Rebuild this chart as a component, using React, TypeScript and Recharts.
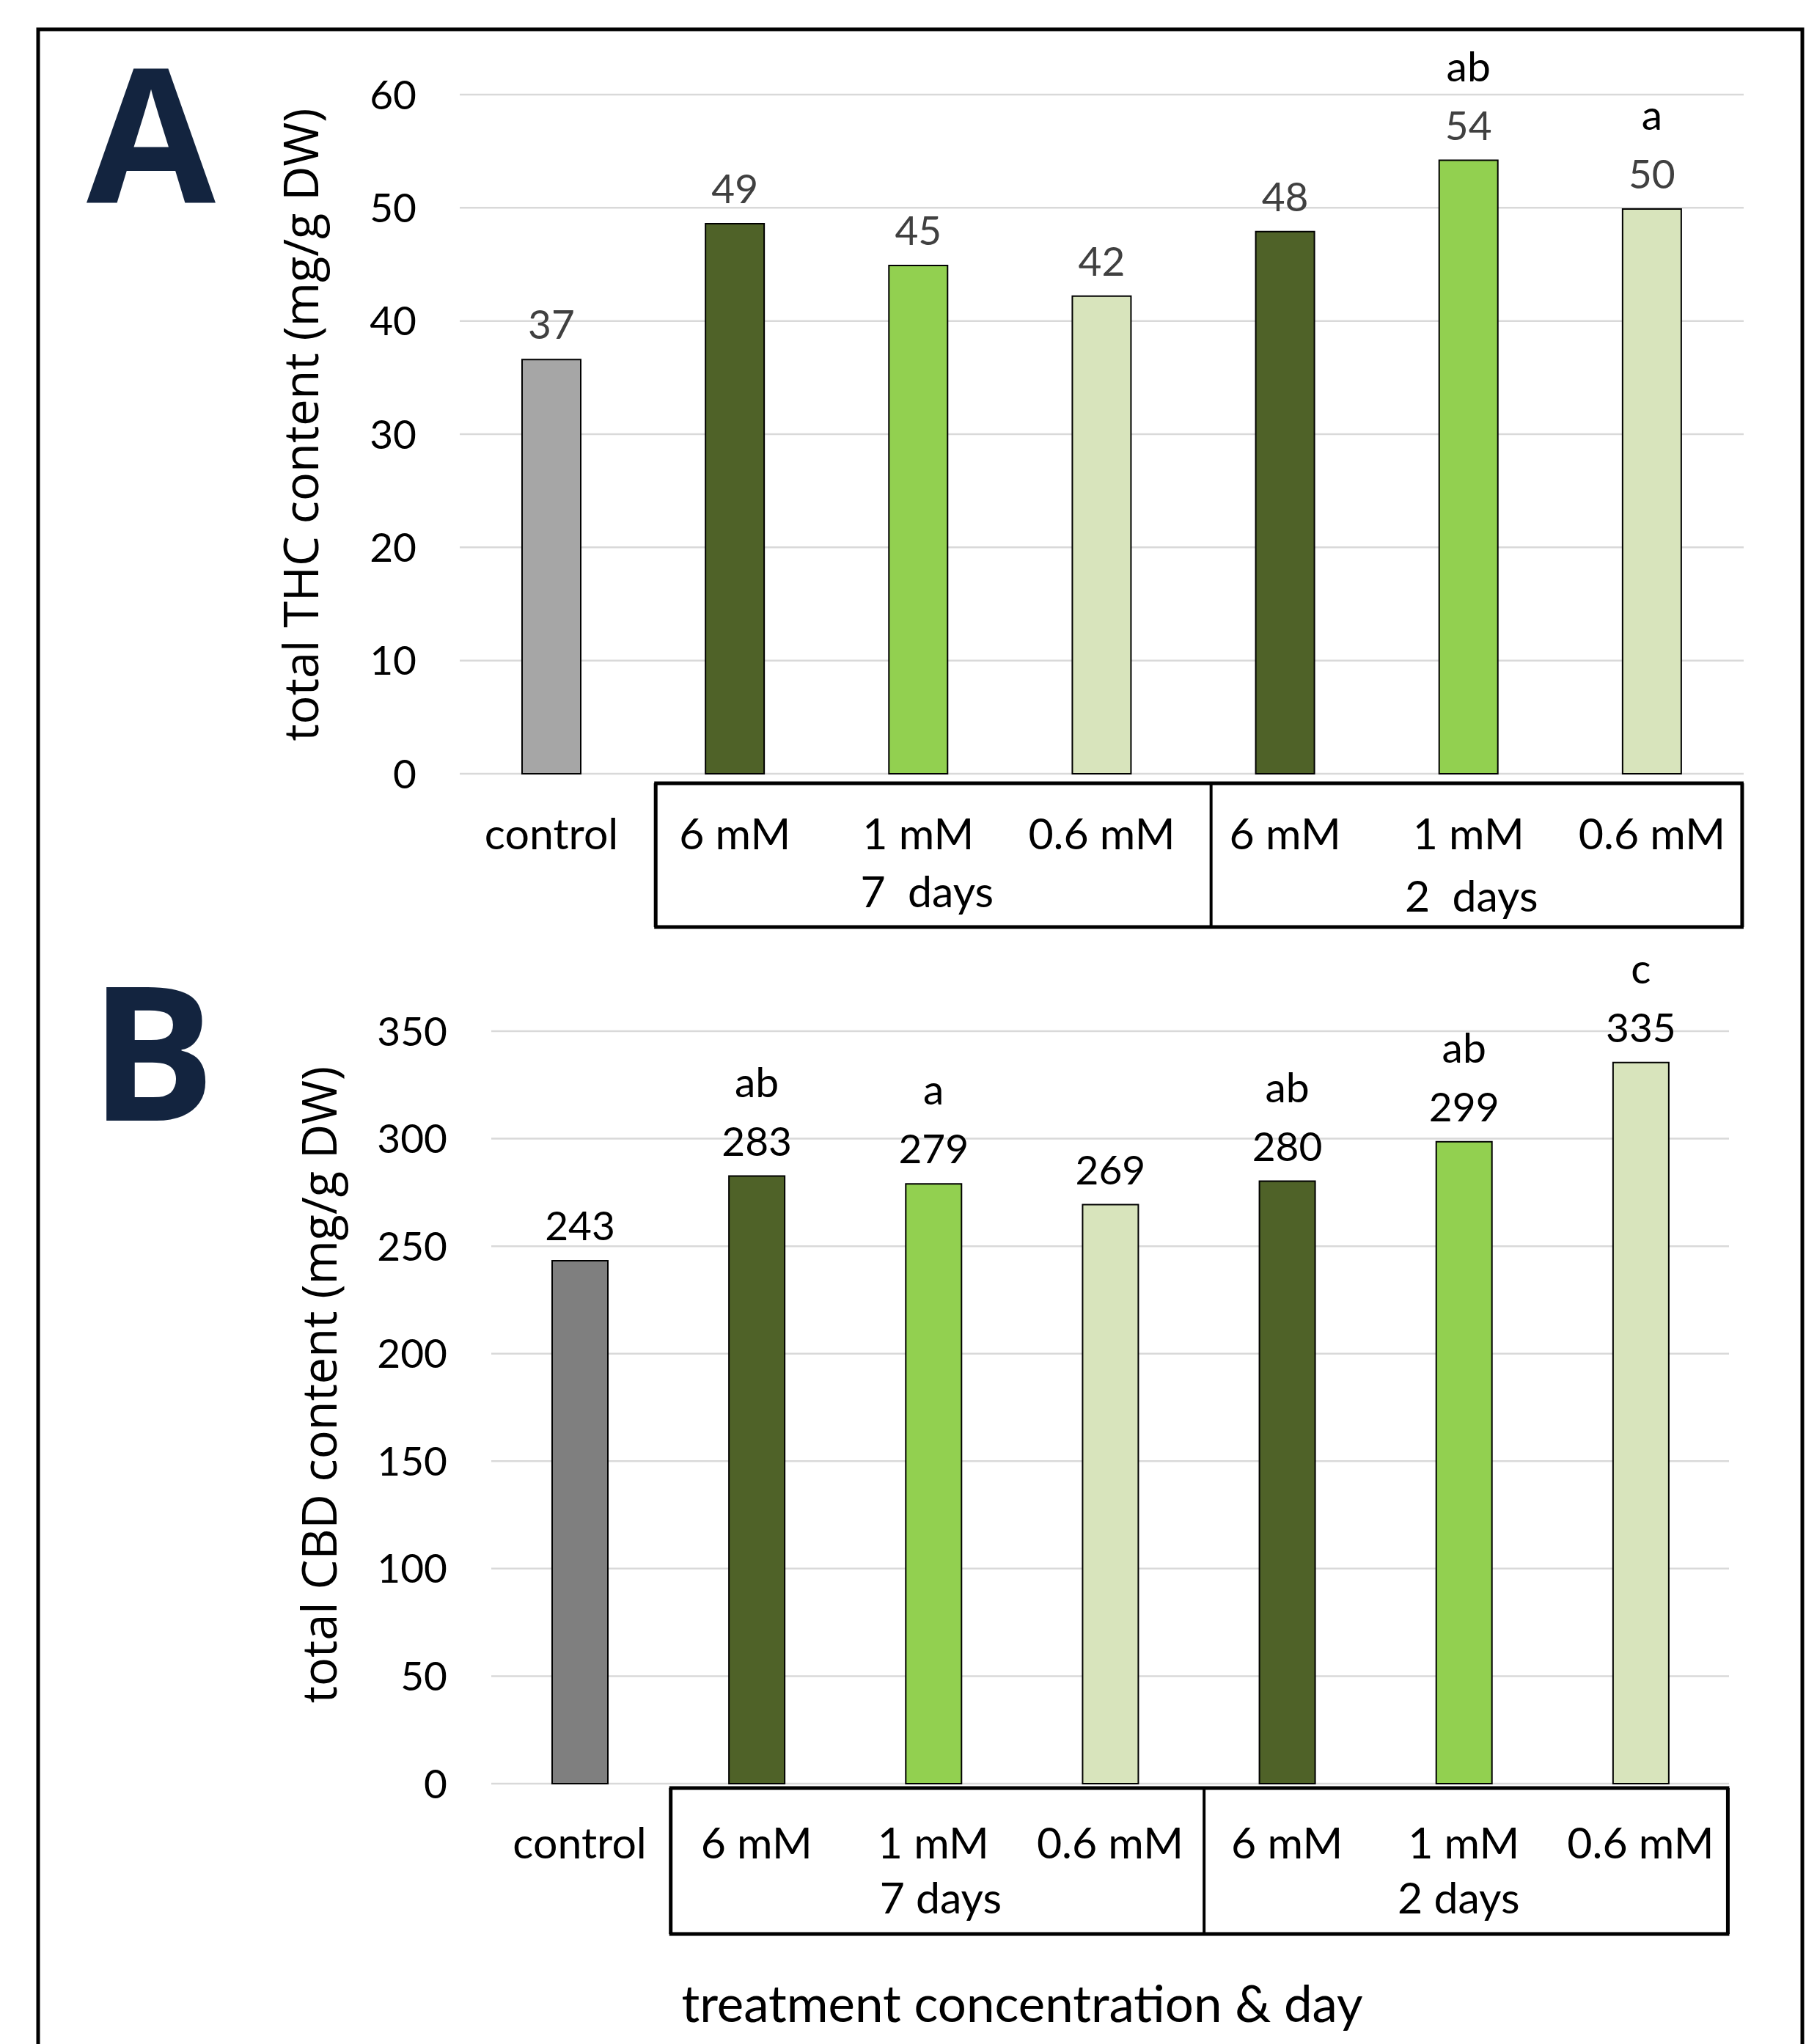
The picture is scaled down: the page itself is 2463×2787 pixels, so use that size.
import React from "react";
import { BarChart, Bar, XAxis, YAxis, CartesianGrid, Cell, LabelList } from "recharts";

const categories = ["control", "6 mM", "1 mM", "0.6 mM", "6 mM", "1 mM", "0.6 mM"];
const thcValues = [36.6, 48.6, 44.9, 42.2, 47.9, 54.2, 49.9];
const thcLetters = ["", "", "", "", "", "ab", "a"];
const cbdValues = [243.2, 282.6, 279.0, 269.3, 280.2, 298.6, 335.4];
const cbdLetters = ["", "ab", "a", "", "ab", "ab", "c"];
const thcTicks = [0, 10, 20, 30, 40, 50, 60];
const cbdTicks = [0, 50, 100, 150, 200, 250, 300, 350];
const colorsA = ["#a6a6a6", "#4f6228", "#92d050", "#d8e4bc", "#4f6228", "#92d050", "#d8e4bc"];
const colorsB = ["#7f7f7f", "#4f6228", "#92d050", "#d8e4bc", "#4f6228", "#92d050", "#d8e4bc"];

const FONT = "Lato, 'Open Sans', sans-serif";
const TITLE_FONT = "'Open Sans', 'Noto Sans', sans-serif";

const rowsA = categories.map((name, i) => ({ name, value: thcValues[i], letter: thcLetters[i] }));
const rowsB = categories.map((name, i) => ({ name, value: cbdValues[i], letter: cbdLetters[i] }));

const cfgA = {
  band: (2378 - 627) / 7,
  labelDy: 103,
  days: ["7  days", "2  days"],
  dayDx: [12, 4],
  dayDy: [182, 188],
  box: { left: -108, divider: -101, right: 123, top: 13, bottom: 209 },
};
const cfgB = {
  band: (2358 - 670) / 7,
  labelDy: 102,
  days: ["7 days", "2 days"],
  dayDx: [10, -7],
  dayDy: [177, 177],
  box: { left: -117, divider: -113, right: 119, top: 6, bottom: 205 },
};

function GroupTick(props: any) {
  const { x, y, index, cfg } = props;
  const txt = { fontFamily: FONT, fontSize: 59, fill: "#000", whiteSpace: "pre" as const };
  let box = null;
  if (index === 1) {
    const b = cfg.box;
    const l = x + b.left;
    const d = x + 3 * cfg.band + b.divider;
    const r = x + 5 * cfg.band + b.right;
    box = (
      <g stroke="#000" fill="none">
        <line x1={l - 2} x2={r + 2} y1={y + b.top} y2={y + b.top} strokeWidth={5} />
        <line x1={l - 2} x2={r + 2} y1={y + b.bottom} y2={y + b.bottom} strokeWidth={5} />
        <line x1={l} x2={l} y1={y + b.top} y2={y + b.bottom} strokeWidth={5} />
        <line x1={d} x2={d} y1={y + b.top} y2={y + b.bottom} strokeWidth={4} />
        <line x1={r} x2={r} y1={y + b.top} y2={y + b.bottom} strokeWidth={5} />
      </g>
    );
  }
  const g = index === 2 ? 0 : index === 5 ? 1 : -1;
  return (
    <g>
      {box}
      <text x={x} y={y + cfg.labelDy} textAnchor="middle" style={txt}>
        {categories[index]}
      </text>
      {g >= 0 && (
        <text x={x + cfg.dayDx[g]} y={y + cfg.dayDy[g]} textAnchor="middle" style={txt}>
          {cfg.days[g]}
        </text>
      )}
    </g>
  );
}

function valueLabel(color: string) {
  return (p: any) => {
    const vb = p.viewBox || p;
    const cx = vb.x + vb.width / 2;
    return (
      <text x={cx} y={vb.y - 28} textAnchor="middle" fontFamily={FONT} fontSize={55} fill={color}>
        {Math.round(p.value)}
      </text>
    );
  };
}

function letterLabel(p: any) {
  if (!p.value) return null;
  const vb = p.viewBox || p;
  const cx = vb.x + vb.width / 2;
  return (
    <text x={cx} y={vb.y - 108} textAnchor="middle" fontFamily={FONT} fontSize={57} fill="#000">
      {p.value}
    </text>
  );
}

function Panel(props: any) {
  const { rows, colors, ticks, max, cfg, top, height, margin, barSize, valueColor, tickMargin } = props;
  return (
    <div style={{ position: "absolute", left: 0, top }}>
      <BarChart width={2463} height={height} data={rows} margin={margin}>
        <CartesianGrid vertical={false} stroke="#d9d9d9" strokeWidth={2.5} />
        <XAxis
          dataKey="name"
          interval={0}
          height={220}
          axisLine={false}
          tickLine={false}
          tickSize={0}
          tickMargin={0}
          tick={(p: any) => <GroupTick {...p} cfg={cfg} />}
        />
        <YAxis
          domain={[0, max]}
          ticks={ticks}
          width={100}
          axisLine={false}
          tickLine={false}
          tickSize={0}
          tickMargin={tickMargin}
          tick={{ fontFamily: FONT, fontSize: 55, fill: "#000" }}
        />
        <Bar dataKey="value" barSize={barSize} stroke="#000" strokeWidth={2} isAnimationActive={false}>
          {rows.map((r: any, i: number) => (
            <Cell key={i} fill={colors[i]} />
          ))}
          <LabelList dataKey="value" content={valueLabel(valueColor)} />
          <LabelList dataKey="letter" content={letterLabel} />
        </Bar>
      </BarChart>
    </div>
  );
}

export default function App() {
  return (
    <div style={{ position: "absolute", left: 0, top: 0, width: 2463, height: 2787, background: "#fff", overflow: "hidden" }}>
      <svg width={2463} height={2787} style={{ position: "absolute", left: 0, top: 0 }}>
        <path d="M52 2800 L52 40 L2458 40 L2458 2800" fill="none" stroke="#000" strokeWidth={5} />
        <text x={206} y={276} textAnchor="middle" fontFamily={TITLE_FONT} fontWeight={700} fontSize={255} fill="#13243f">
          A
        </text>
        <text x={208} y={1528} textAnchor="middle" fontFamily={TITLE_FONT} fontWeight={700} fontSize={255} fill="#13243f">
          B
        </text>
        <text x={434} y={579} transform="rotate(-90 434 579)" textAnchor="middle" fontFamily={TITLE_FONT} fontSize={65} fill="#000">
          total THC content (mg/g DW)
        </text>
        <text x={459} y={1888} transform="rotate(-90 459 1888)" textAnchor="middle" fontFamily={TITLE_FONT} fontSize={65} fill="#000">
          total CBD content (mg/g DW)
        </text>
        <text x={1394} y={2757} textAnchor="middle" fontFamily={FONT} fontSize={69} fill="#000">
          treatment concentration &amp; day
        </text>
      </svg>
      <Panel
        rows={rowsA}
        colors={colorsA}
        ticks={thcTicks}
        max={60}
        cfg={cfgA}
        top={0}
        height={1290}
        margin={{ top: 129, right: 85, bottom: 15, left: 527 }}
        barSize={80}
        valueColor="#404040"
        tickMargin={59}
      />
      <Panel
        rows={rowsB}
        colors={colorsB}
        ticks={cbdTicks}
        max={350}
        cfg={cfgB}
        top={1240}
        height={1547}
        margin={{ top: 166, right: 105, bottom: 135, left: 570 }}
        barSize={76}
        valueColor="#000"
        tickMargin={60}
      />
    </div>
  );
}
